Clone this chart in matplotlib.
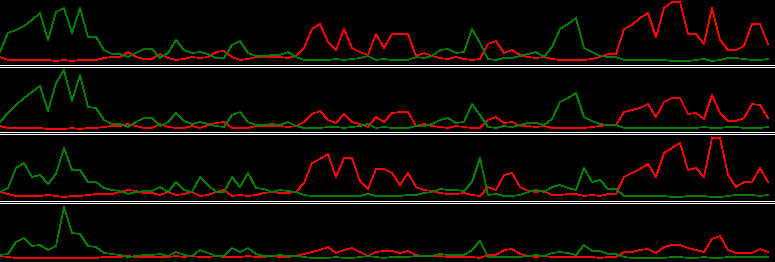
import numpy as np
import matplotlib
matplotlib.use("Agg")
import matplotlib.pyplot as plt
from matplotlib.lines import Line2D

# ---- data: 97 samples per series, four stacked panels ----
green_1 = [12, 31, 34, 38, 44, 51, 24, 52, 56, 31,
           56, 27, 27, 14, 10, 10, 7, 11, 15, 15,
           6, 11, 24, 14, 11, 12, 10, 6, 6, 19,
           23, 11, 8, 8, 9, 9, 12, 7, 4, 4,
           4, 4, 5, 4, 5, 6, 8, 4, 5, 4,
           4, 4, 7, 6, 8, 14, 15, 11, 12, 35,
           21, 5, 4, 6, 6, 8, 10, 12, 7, 17,
           35, 40, 46, 16, 12, 8, 7, 7, 4, 4,
           4, 4, 4, 4, 3, 3, 3, 4, 5, 3,
           4, 6, 6, 5, 4, 4, 5]
red_1 = [7, 4, 4, 4, 4, 4, 4, 3, 4, 3,
         4, 4, 4, 6, 7, 7, 12, 7, 5, 5,
         10, 6, 4, 5, 7, 6, 7, 12, 13, 7,
         4, 5, 7, 7, 7, 7, 6, 8, 16, 35,
         40, 22, 14, 35, 16, 12, 9, 30, 16, 30,
         30, 30, 8, 11, 8, 6, 5, 7, 5, 4,
         5, 20, 23, 11, 14, 9, 7, 6, 7, 5,
         4, 4, 4, 4, 5, 7, 10, 10, 35, 39,
         46, 51, 27, 56, 62, 62, 30, 30, 20, 56,
         24, 14, 14, 18, 40, 40, 20]

green_2 = [9, 18, 26, 33, 39, 45, 20, 48, 61, 30,
           56, 24, 23, 11, 7, 7, 4, 9, 13, 13,
           5, 9, 18, 10, 7, 9, 7, 5, 4, 16,
           19, 9, 6, 6, 7, 6, 9, 5, 3, 3,
           3, 4, 4, 3, 4, 5, 7, 3, 4, 3,
           3, 3, 5, 5, 7, 11, 13, 8, 9, 27,
           16, 4, 3, 5, 4, 6, 8, 8, 6, 12,
           29, 33, 38, 14, 10, 7, 6, 6, 3, 3,
           3, 3, 3, 3, 3, 3, 3, 3, 4, 3,
           3, 4, 4, 3, 3, 3, 4]
red_2 = [5, 3, 3, 3, 3, 3, 2, 2, 2, 3,
         2, 3, 3, 4, 5, 5, 7, 5, 3, 3,
         7, 4, 3, 3, 5, 3, 6, 8, 9, 3,
         3, 3, 5, 5, 5, 5, 4, 5, 9, 17,
         20, 11, 8, 17, 9, 7, 4, 14, 9, 18,
         19, 19, 5, 7, 5, 4, 3, 5, 4, 3,
         3, 11, 14, 8, 9, 5, 5, 4, 5, 3,
         3, 3, 3, 3, 4, 5, 6, 6, 19, 21,
         23, 27, 14, 29, 33, 33, 17, 18, 12, 36,
         18, 10, 10, 13, 27, 26, 13]

green_3 = [8, 12, 32, 37, 23, 25, 16, 26, 52, 30,
           30, 18, 18, 12, 10, 9, 6, 8, 9, 9,
           13, 8, 18, 10, 8, 23, 15, 8, 8, 23,
           13, 27, 12, 11, 8, 10, 9, 8, 5, 4,
           4, 4, 4, 4, 4, 4, 6, 4, 4, 4,
           4, 5, 5, 7, 8, 11, 10, 10, 9, 18,
           42, 5, 6, 4, 4, 5, 8, 10, 8, 13,
           15, 12, 10, 32, 18, 20, 11, 11, 4, 4,
           4, 4, 4, 4, 3, 3, 4, 4, 4, 3,
           3, 4, 5, 5, 5, 4, 5]
red_3 = [8, 6, 4, 4, 4, 4, 5, 4, 3, 4,
         4, 5, 6, 6, 6, 8, 10, 9, 7, 7,
         5, 8, 5, 6, 8, 4, 5, 8, 10, 4,
         5, 4, 5, 7, 8, 7, 7, 8, 17, 37,
         41, 46, 23, 42, 42, 19, 11, 31, 31, 27,
         15, 27, 13, 10, 9, 7, 6, 6, 7, 5,
         4, 13, 10, 25, 27, 13, 9, 8, 9, 5,
         5, 6, 6, 4, 5, 4, 6, 6, 23, 27,
         31, 36, 23, 47, 52, 57, 30, 32, 23, 62,
         62, 25, 13, 18, 18, 32, 18]

green_4 = [7, 8, 20, 24, 16, 17, 12, 16, 55, 29,
           28, 16, 15, 9, 8, 7, 5, 6, 7, 7,
           8, 6, 10, 7, 6, 12, 9, 6, 6, 14,
           10, 14, 8, 6, 6, 7, 6, 6, 5, 4,
           4, 4, 5, 4, 4, 5, 6, 5, 4, 5,
           5, 5, 6, 6, 6, 8, 7, 7, 7, 12,
           21, 5, 5, 5, 5, 5, 6, 7, 6, 9,
           10, 9, 7, 17, 11, 11, 8, 8, 5, 4,
           4, 4, 4, 4, 5, 5, 4, 4, 5, 4,
           4, 5, 5, 5, 5, 5, 5]
red_4 = [6, 5, 4, 4, 4, 4, 4, 4, 4, 4,
         4, 4, 4, 5, 5, 5, 6, 5, 5, 5,
         5, 5, 6, 5, 6, 5, 5, 6, 5, 5,
         5, 6, 5, 5, 6, 5, 5, 6, 8, 10,
         12, 15, 9, 12, 14, 10, 6, 10, 11, 11,
         9, 11, 7, 6, 6, 6, 5, 5, 5, 5,
         4, 7, 7, 12, 13, 8, 6, 5, 6, 5,
         5, 5, 5, 5, 5, 4, 5, 5, 10, 10,
         12, 13, 9, 15, 17, 17, 14, 12, 10, 23,
         26, 12, 9, 9, 9, 13, 10]

# panel rows in pixels (top, bottom) and separator rows
W, H = 775, 262
panels = [(0, 64), (67, 131), (134, 200), (203, 262)]
sep_rows = [64, 66, 131, 133, 200, 202]
series = [(green_1, red_1), (green_2, red_2), (green_3, red_3), (green_4, red_4)]
LW = 0.5  # about one pixel, drawn without antialiasing

fig = plt.figure(figsize=(W / 100, H / 100), dpi=100, facecolor="#000000")

for (top, bot), (g, r) in zip(panels, series):
    ax = fig.add_axes([0, 1 - bot / H, 1, (bot - top) / H])
    ax.set_facecolor("#000000")
    x = np.arange(len(g))
    ax.plot(x, r, color="#ff0000", lw=LW, antialiased=False)
    ax.plot(x, g, color="#008000", lw=LW, antialiased=False)
    ax.set_xlim(0, W / 8)
    ax.set_ylim(0, bot - top)
    ax.axis("off")

# white double separators between panels
for row in sep_rows:
    yf = 1 - (row + 0.5) / H
    fig.add_artist(Line2D([0, 1], [yf, yf], transform=fig.transFigure,
                          color="white", lw=LW, antialiased=False))

fig.savefig("out.png", dpi=100, facecolor="#000000")
